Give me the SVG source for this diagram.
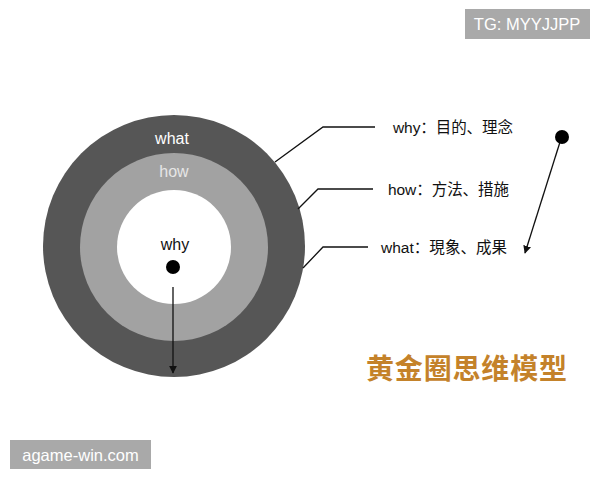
<svg xmlns="http://www.w3.org/2000/svg" width="600" height="480" viewBox="0 0 600 480">
<defs>
<style>
.t{font-family:"Liberation Sans","Noto Sans CJK SC",sans-serif;}
.lbl{font-size:15.5px;fill:#111;}
.lead{fill:none;stroke:#111;stroke-width:1.3;}
.wm{fill:#a9a9a9;}
.wmt{fill:#fff;font-size:16.5px;}
</style>
<marker id="ah" viewBox="0 0 10 10" refX="9" refY="5" markerWidth="8" markerHeight="8" markerUnits="userSpaceOnUse" orient="auto">
<path d="M0,0 L10,5 L0,10 z" fill="#111"/>
</marker>
</defs>
<rect width="600" height="480" fill="#fff"/>
<g id="outer">
<circle cx="174" cy="246" r="131" fill="#565656"/>
<text class="t" x="172" y="144" font-size="16" fill="#fff" text-anchor="middle">what</text>
</g>
<g id="middle">
<circle cx="174" cy="247" r="94" fill="#a2a2a2"/>
<text class="t" x="174" y="177" font-size="16" fill="#e6e6e6" text-anchor="middle">how</text>
</g>
<g id="inner">
<circle cx="174" cy="247" r="57" fill="#fff"/>
<text class="t" x="175" y="250" font-size="16" fill="#111" text-anchor="middle">why</text>
<circle cx="173" cy="267" r="7" fill="#000"/>
</g>
<g id="connectors">
<polyline class="lead" points="275,162 323,127 375,127"/>
<polyline class="lead" points="298,209 318,189 373,189"/>
<polyline class="lead" points="303,268 323,247 368,247"/>
<line x1="173" y1="287" x2="173" y2="373" stroke="#111" stroke-width="1.3" marker-end="url(#ah)"/>
<line x1="560" y1="142" x2="525" y2="253" stroke="#111" stroke-width="1.3" marker-end="url(#ah)"/>
</g>
<g id="label-why"><text class="t lbl" x="393" y="133" textLength="120">why：目的、理念</text></g>
<g id="label-how"><text class="t lbl" x="388" y="195" textLength="121">how：方法、措施</text></g>
<g id="label-what"><text class="t lbl" x="381" y="253" textLength="126">what：現象、成果</text></g>
<g id="dot-right"><circle cx="562" cy="137" r="7" fill="#000"/></g>
<g id="title"><text class="t" x="366" y="379" font-size="28" font-weight="bold" fill="#c4822a" textLength="201">黄金圈思维模型</text></g>
<g id="wm-top">
<rect class="wm" x="465" y="9" width="125" height="30"/>
<text class="t wmt" x="527" y="30" text-anchor="middle">TG: MYYJJPP</text>
</g>
<g id="wm-bottom">
<rect class="wm" x="10" y="440" width="141" height="29"/>
<text class="t wmt" x="80.5" y="460.5" font-size="17" text-anchor="middle">agame-win.com</text>
</g>
</svg>
